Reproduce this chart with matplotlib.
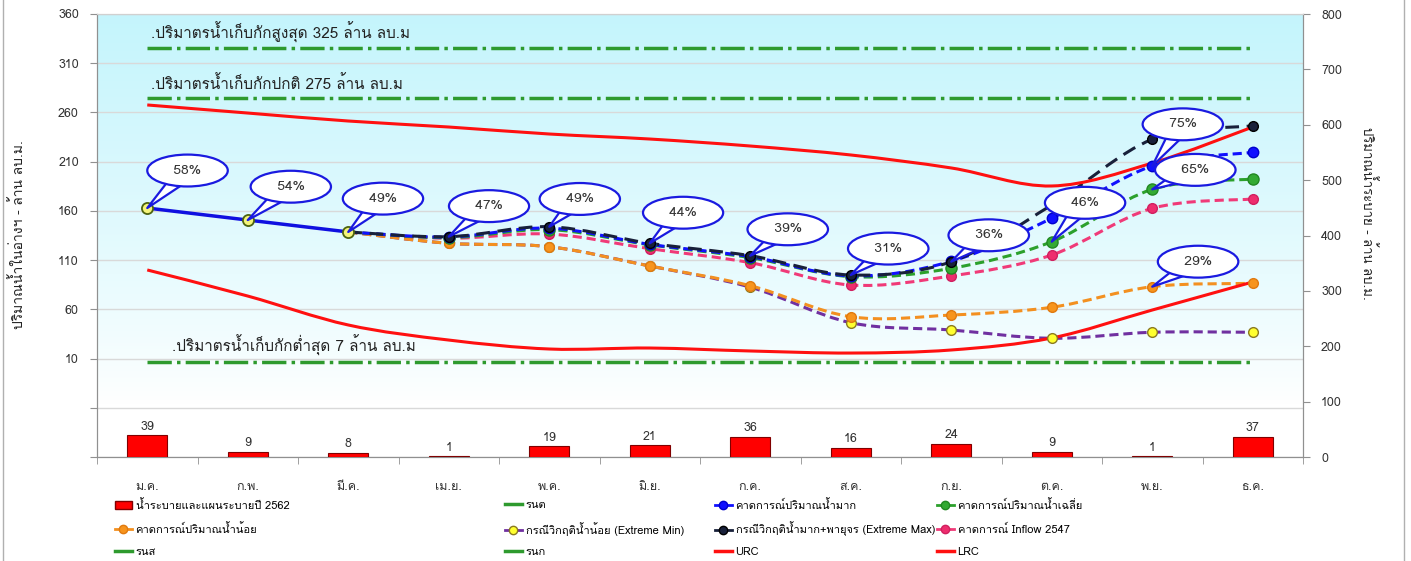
import numpy as np
import matplotlib
matplotlib.use('Agg')
import matplotlib.pyplot as plt
from matplotlib.path import Path
from matplotlib.patches import PathPatch, Rectangle, Patch
from matplotlib.lines import Line2D

plt.rcParams['font.family'] = ['Loma', 'DejaVu Sans']

# ---- data ----
months = ['ม.ค.', 'ก.พ.', 'มี.ค.', 'เม.ย.', 'พ.ค.', 'มิ.ย.',
          'ก.ค.', 'ส.ค.', 'ก.ย.', 'ต.ค.', 'พ.ย.', 'ธ.ค.']
release = [39, 9, 8, 1, 19, 21, 36, 16, 24, 9, 1, 37]

# ปริมาณน้ำจริง ม.ค. - มี.ค.
actual = [162.9, 150.7, 138.6]
# คาดการณ์ มี.ค. - ธ.ค.
fc_extreme_max = [138.6, 133.8, 143.9, 127.1, 114.5, 94.9, 108.4, 166.0, 232.7, 246.5]
fc_high = [138.6, 133.5, 142.5, 126.0, 113.5, 94.0, 108.8, 152.5, 205.6, 219.5]
fc_avg = [138.6, 132.8, 141.0, 125.5, 112.5, 93.2, 101.7, 128.7, 181.9, 192.4]
fc_inflow47 = [138.6, 132.2, 136.5, 121.6, 107.4, 84.7, 93.9, 115.2, 162.6, 172.1]
fc_low = [138.6, 127.1, 123.6, 104.0, 84.0, 52.5, 54.2, 62.1, 83.0, 86.4]
fc_extreme_min = [138.6, 127.1, 123.6, 104.0, 82.5, 46.4, 39.0, 30.6, 36.7, 36.7]

urc = [267.6, 259.4, 251.3, 245.2, 238.1, 233.0, 225.9, 216.8, 203.6, 185.3, 208.6, 245.2]
lrc = [100.0, 73.5, 44.1, 28.8, 19.7, 20.7, 17.7, 15.6, 18.7, 30.9, 59.3, 87.8]

max_storage = 325
normal_storage = 275
min_storage = 7

# callouts: (label, series, month index)
callouts = [
    ('58%', 'actual', 0), ('54%', 'actual', 1), ('49%', 'actual', 2),
    ('47%', 'max', 3), ('49%', 'max', 4), ('44%', 'max', 5),
    ('39%', 'max', 6), ('31%', 'max', 7), ('36%', 'max', 8),
    ('46%', 'avg', 9), ('75%', 'high', 10), ('65%', 'avg', 10),
    ('29%', 'low', 10),
]
callout_offsets = [(29, 27), (31, 24), (25, 24), (29, 22), (22, 20), (24, 22),
                   (27, 19), (27, 19), (27, 19), (24, 28), (22, 30), (31, 14),
                   (33, 18)]


def smooth_path(xs, ys):
    # เส้นโค้งแบบ smooth (Bezier) เหมือนกราฟ Excel
    pts = np.column_stack([xs, ys]).astype(float)
    verts = [pts[0]]
    codes = [Path.MOVETO]
    n = len(pts)
    for i in range(n - 1):
        p0 = pts[i - 1] if i > 0 else pts[i]
        p1 = pts[i]
        p2 = pts[i + 1]
        p3 = pts[i + 2] if i + 2 < n else pts[i + 1]
        verts += [p1 + (p2 - p0) / 6, p2 - (p3 - p1) / 6, p2]
        codes += [Path.CURVE4] * 3
    return Path(verts, codes)


W, H = 1411, 561
fig = plt.figure(figsize=(W / 100, H / 100), dpi=100)
ax = fig.add_axes([97 / W, 1 - 457 / H, (1303 - 97) / W, (457 - 14) / H])
ax2 = ax.twinx()

# พื้นหลังไล่สี
grad = np.linspace(0, 1, 256)
top = np.array([0.77, 0.96, 0.99])
frac = np.clip((grad - 0.12) / 0.88, 0, 1) ** 0.85
img = (1 - frac)[:, None] * 1.0 + frac[:, None] * top[None, :]
ax.imshow(img[:, None, :], extent=[0, 1, 0, 1], transform=ax.transAxes,
          aspect='auto', origin='lower', zorder=0)

x = np.arange(len(months))
xf = np.arange(2, 12)

# เส้นระดับเก็บกัก
lvl_style = dict(color='#2e9a2e', lw=2.5, ls=(0, (7, 1.5, 1, 1.5)), zorder=2)
for lvl in [max_storage, normal_storage, min_storage]:
    ax.plot([x[0], x[-1]], [lvl, lvl], **lvl_style)
ax.annotate('.ปริมาตรน้ำเก็บกักสูงสุด 325 ล้าน ลบ.ม', (x[0], max_storage), xytext=(3, 4),
            textcoords='offset points', fontsize=11, color='#222222', va='bottom')
ax.annotate('.ปริมาตรน้ำเก็บกักปกติ 275 ล้าน ลบ.ม', (x[0], normal_storage), xytext=(3, 4),
            textcoords='offset points', fontsize=11, color='#222222', va='bottom')
ax.annotate('.ปริมาตรน้ำเก็บกักต่ำสุด 7 ล้าน ลบ.ม', (x[0], min_storage), xytext=(18, 4),
            textcoords='offset points', fontsize=11, color='#222222', va='bottom')

# URC / LRC
for curve in [urc, lrc]:
    ax.add_patch(PathPatch(smooth_path(x, curve), fill=False, ec='#ff1010', lw=2.2, zorder=3.5))

series = [
    (fc_extreme_min, '#7030a0', '#ffff30', '#8a7a20', 7, (0, (3, 1.6))),
    (fc_low, '#f39020', '#f7941d', '#e07a10', 7, (0, (3, 1.6))),
    (fc_inflow47, '#f03a78', '#ee2d6e', '#d02060', 7, (0, (3, 1.6))),
    (fc_avg, '#2ca02c', '#33aa33', '#228822', 8, (0, (3, 1.6))),
    (fc_high, '#1010ff', '#1010ff', '#0000cc', 7.5, (0, (3, 1.6))),
    (fc_extreme_max, '#18203a', '#18203a', '#000000', 7, (0, (4.5, 2.5))),
]
for vals, col, mfc, mec, ms, ls in series:
    ax.add_patch(PathPatch(smooth_path(xf, vals), fill=False, ec=col, lw=2.2, ls=ls, zorder=3))
    ax.plot(xf[1:], vals[1:], ls='none', marker='o', ms=ms, mfc=mfc, mec=mec, mew=1, zorder=4)

# ปริมาณน้ำจริง
ax.add_patch(PathPatch(smooth_path(x[:3], actual), fill=False, ec='#1010e0', lw=2.5, zorder=3.6))
ax.plot(x[:3], actual, ls='none', marker='o', ms=8, mfc='#f4f47a', mec='#4d6410', mew=1.3, zorder=4.5)

# callouts
lookup = {'actual': (x[:3], actual), 'max': (xf, fc_extreme_max), 'high': (xf, fc_high),
          'avg': (xf, fc_avg), 'low': (xf, fc_low)}
for (lab, key, i), off in zip(callouts, callout_offsets):
    xs, vals = lookup[key]
    j = list(xs).index(i)
    ax.annotate('  ' + lab + '  ', (i, vals[j]), xytext=off, textcoords='offset points',
                ha='center', va='center', fontsize=10, color='#333333', zorder=6,
                bbox=dict(boxstyle='ellipse,pad=0.38', fc='white', ec='#1a1ae0', lw=1.6),
                arrowprops=dict(arrowstyle='wedge,tail_width=1.3,shrink_factor=0.5',
                                fc='white', ec='#1a1ae0', lw=1.6, patchA=None,
                                shrinkA=0, shrinkB=0))

# แท่งน้ำระบาย
bars = ax2.bar(x, release, width=0.4, color='#ff0000', edgecolor='#800000', lw=0.8, zorder=3)
ax2.bar_label(bars, padding=2, fontsize=9, color='#333333')

# แกน
ax.set_xlim(-0.5, 11.5)
ax.set_ylim(-90, 360)
ax2.set_ylim(0, 800)
ax.set_yticks(np.arange(-90, 361, 50))
ax.set_yticklabels(['', ''] + [str(v) for v in range(10, 361, 50)])
ax2.set_yticks(np.arange(0, 801, 100))
ax.set_xticks(x)
ax.set_xticklabels(months)
ax.set_xticks(np.arange(-0.5, 12, 1), minor=True)
ax.tick_params(axis='x', which='major', length=0, pad=17, labelsize=9, labelcolor='#333333')
ax.tick_params(axis='x', which='minor', length=5, color='#909090')
ax.tick_params(axis='y', length=5, color='#909090', pad=8, labelsize=9, labelcolor='#333333')
ax2.tick_params(axis='y', length=5, color='#909090', pad=8, labelsize=9, labelcolor='#333333')
ax.grid(axis='y', color='#d9d9d9', lw=1, zorder=1)
ax.set_axisbelow(True)
for a in (ax, ax2):
    a.spines['top'].set_color('#d0d0d0')
    a.spines['left'].set_color('#909090')
    a.spines['right'].set_color('#909090')
    a.spines['bottom'].set_color('#909090')

fig.text(18 / W, 1 - 235 / H, 'ปริมาณน้ำในอ่างฯ - ล้าน ลบ.ม.', rotation=90,
         ha='center', va='center', fontsize=10, color='#222222')
fig.text(1368 / W, 1 - 213 / H, 'ปริมาณน้ำระบาย - ล้าน ลบ.ม.', rotation=270,
         ha='center', va='center', fontsize=9.5, color='#222222')

# legend: 4 คอลัมน์ x 3 แถว (วางทีละช่องให้แถวตรงกัน)
def mk(col, mfc, mec, ms=6):
    return Line2D([], [], color=col, lw=2, marker='o', ms=ms, mfc=mfc, mec=mec)

green_line = Line2D([], [], color='#2e9a2e', lw=2.5)
red_line = Line2D([], [], color='#ff1010', lw=2.5)
legend_cols = [
    (115, [Patch(fc='#ff0000', ec='#800000'), mk('#f39020', '#f7941d', '#e07a10'), green_line],
     ['น้ำระบายและแผนระบายปี 2562', 'คาดการณ์ปริมาณน้ำน้อย', 'รนส']),
    (505, [green_line, mk('#7030a0', '#ffff30', '#8a7a20'), green_line],
     ['รนต', 'กรณีวิกฤติน้ำน้อย (Extreme Min)', 'รนก']),
    (715, [mk('#1010ff', '#1010ff', '#0000cc'), mk('#18203a', '#18203a', '#000000'), red_line],
     ['คาดการณ์ปริมาณน้ำมาก', 'กรณีวิกฤติน้ำมาก+พายุจร (Extreme Max)', 'URC']),
    (937, [mk('#2ca02c', '#33aa33', '#228822'), mk('#f03a78', '#ee2d6e', '#d02060'), red_line],
     ['คาดการณ์ปริมาณน้ำเฉลี่ย', 'คาดการณ์ Inflow 2547', 'LRC']),
]
row_y = [505, 529, 552]
for xpx, hs, labels in legend_cols:
    for h, lab, ypx in zip(hs, labels, row_y):
        fig.legend([h], [lab], loc='center left', bbox_to_anchor=(xpx / W, 1 - ypx / H),
                   frameon=False, fontsize=8, borderpad=0, borderaxespad=0,
                   handlelength=1.5, handletextpad=0.35)

fig.patches.append(Rectangle((3 / W, -0.01), (1404 - 3) / W, 1.02, transform=fig.transFigure,
                             fill=False, ec='#b0b0b0', lw=1))

fig.savefig('out.png', dpi=100)
